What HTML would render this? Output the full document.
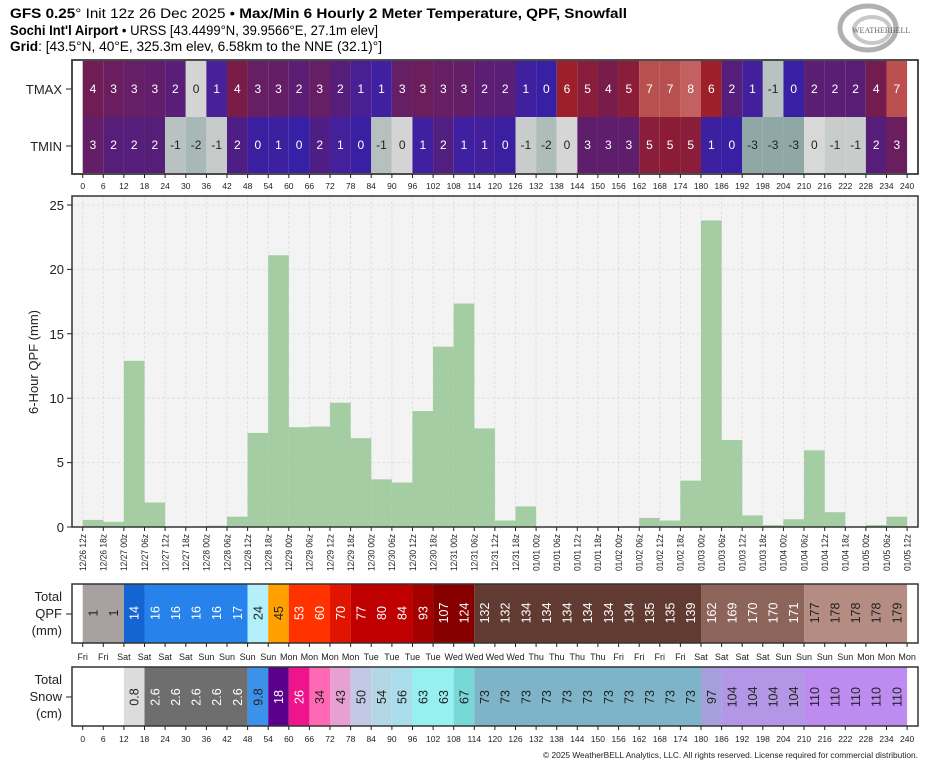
<!DOCTYPE html>
<html><head><meta charset="utf-8"><style>
html,body{margin:0;padding:0;background:#fff;}
svg{display:block;font-family:"Liberation Sans","DejaVu Sans",sans-serif;}
</style></head><body>
<svg width="935" height="768" viewBox="0 0 935 768" xmlns="http://www.w3.org/2000/svg">
<!-- Title -->
<text x="10" y="18" font-size="13.5" textLength="617" lengthAdjust="spacingAndGlyphs"><tspan font-weight="bold">GFS 0.25</tspan>° Init 12z 26 Dec 2025 • <tspan font-weight="bold">Max/Min 6 Hourly 2 Meter Temperature, QPF, Snowfall</tspan></text>
<text x="10" y="35" font-size="13.5" textLength="368" lengthAdjust="spacingAndGlyphs"><tspan font-weight="bold">Sochi Int'l Airport</tspan> • URSS [43.4499°N, 39.9566°E, 27.1m elev]</text>
<text x="10" y="51" font-size="13.5" textLength="372" lengthAdjust="spacingAndGlyphs"><tspan font-weight="bold">Grid</tspan>: [43.5°N, 40°E, 325.3m elev, 6.58km to the NNE (32.1)°]</text>
<!-- logo -->
<g>
<ellipse cx="868" cy="28" rx="28" ry="22" fill="none" stroke="#b0b0b0" stroke-width="5"/>
<ellipse cx="872" cy="30" rx="18" ry="13" fill="none" stroke="#c8c8c8" stroke-width="4"/>
<text x="852" y="33" font-size="8" font-family="Liberation Serif,serif" fill="#666">WEATHERBELL</text>
</g>

<!-- Top temperature panel -->
<rect x="72" y="60" width="846" height="114" fill="#fff" stroke="#333" stroke-width="1.5"/>
<g transform="translate(82.7,61) scale(20.61,1)">
<rect x="0" width="1" height="56" fill="#701d55"/><rect x="1" width="1" height="56" fill="#6a1e60"/><rect x="2" width="1" height="56" fill="#661e66"/><rect x="3" width="1" height="56" fill="#621e6a"/><rect x="4" width="1" height="56" fill="#5a1e78"/><rect x="5" width="1" height="56" fill="#d4d4d4"/><rect x="6" width="1" height="56" fill="#48209a"/><rect x="7" width="1" height="56" fill="#7a1c48"/><rect x="8" width="1" height="56" fill="#661e64"/><rect x="9" width="1" height="56" fill="#641e66"/>
<rect x="10" width="1" height="56" fill="#5c1e74"/><rect x="11" width="1" height="56" fill="#661e64"/><rect x="12" width="1" height="56" fill="#561e7a"/><rect x="13" width="1" height="56" fill="#4a1f94"/><rect x="14" width="1" height="56" fill="#3e20a0"/><rect x="15" width="1" height="56" fill="#661e64"/><rect x="16" width="1" height="56" fill="#6c1e5c"/><rect x="17" width="1" height="56" fill="#661e64"/><rect x="18" width="1" height="56" fill="#641e66"/><rect x="19" width="1" height="56" fill="#5c1e74"/>
<rect x="20" width="1" height="56" fill="#5a1e76"/><rect x="21" width="1" height="56" fill="#40209e"/><rect x="22" width="1" height="56" fill="#3820a4"/><rect x="23" width="1" height="56" fill="#9c1f2a"/><rect x="24" width="1" height="56" fill="#881d3c"/><rect x="25" width="1" height="56" fill="#781c4c"/><rect x="26" width="1" height="56" fill="#8c1d38"/><rect x="27" width="1" height="56" fill="#b85050"/><rect x="28" width="1" height="56" fill="#b85050"/><rect x="29" width="1" height="56" fill="#c46060"/>
<rect x="30" width="1" height="56" fill="#9c1f2a"/><rect x="31" width="1" height="56" fill="#561e7a"/><rect x="32" width="1" height="56" fill="#42209c"/><rect x="33" width="1" height="56" fill="#b8c2c0"/><rect x="34" width="1" height="56" fill="#3820a4"/><rect x="35" width="1" height="56" fill="#5c1e72"/><rect x="36" width="1" height="56" fill="#5a1e74"/><rect x="37" width="1" height="56" fill="#581e76"/><rect x="38" width="1" height="56" fill="#741c50"/><rect x="39" width="1" height="56" fill="#bc5050"/>
</g>
<g transform="translate(82.7,117) scale(20.61,1)">
<rect x="0" width="1" height="56" fill="#641e68"/><rect x="1" width="1" height="56" fill="#561e78"/><rect x="2" width="1" height="56" fill="#541e7a"/><rect x="3" width="1" height="56" fill="#561e78"/><rect x="4" width="1" height="56" fill="#b8c2c0"/><rect x="5" width="1" height="56" fill="#a8b8b6"/><rect x="6" width="1" height="56" fill="#c6cac8"/><rect x="7" width="1" height="56" fill="#4e1e84"/><rect x="8" width="1" height="56" fill="#3a20a0"/><rect x="9" width="1" height="56" fill="#3c20a0"/>
<rect x="10" width="1" height="56" fill="#3520a6"/><rect x="11" width="1" height="56" fill="#4e1e84"/><rect x="12" width="1" height="56" fill="#44209a"/><rect x="13" width="1" height="56" fill="#3820a2"/><rect x="14" width="1" height="56" fill="#b6c0be"/><rect x="15" width="1" height="56" fill="#d4d4d4"/><rect x="16" width="1" height="56" fill="#3e20a0"/><rect x="17" width="1" height="56" fill="#521e80"/><rect x="18" width="1" height="56" fill="#3e20a0"/><rect x="19" width="1" height="56" fill="#42209c"/>
<rect x="20" width="1" height="56" fill="#3a20a0"/><rect x="21" width="1" height="56" fill="#c8cccb"/><rect x="22" width="1" height="56" fill="#aebcba"/><rect x="23" width="1" height="56" fill="#d6d6d6"/><rect x="24" width="1" height="56" fill="#5e1e6c"/><rect x="25" width="1" height="56" fill="#5e1e6c"/><rect x="26" width="1" height="56" fill="#5e1e6c"/><rect x="27" width="1" height="56" fill="#8a1d3a"/><rect x="28" width="1" height="56" fill="#8c1c36"/><rect x="29" width="1" height="56" fill="#8a1d3a"/>
<rect x="30" width="1" height="56" fill="#3c20a0"/><rect x="31" width="1" height="56" fill="#3820a4"/><rect x="32" width="1" height="56" fill="#8fa8a5"/><rect x="33" width="1" height="56" fill="#8fa8a5"/><rect x="34" width="1" height="56" fill="#8fa8a5"/><rect x="35" width="1" height="56" fill="#d8d8d8"/><rect x="36" width="1" height="56" fill="#c8cccb"/><rect x="37" width="1" height="56" fill="#c8cccb"/><rect x="38" width="1" height="56" fill="#561e78"/><rect x="39" width="1" height="56" fill="#6a1e5e"/>
</g>
<g font-size="12" text-anchor="middle" fill="#fff">
<text y="93"><tspan x="93.0">4</tspan><tspan x="113.6">3</tspan><tspan x="134.2">3</tspan><tspan x="154.8">3</tspan><tspan x="175.4">2</tspan><tspan x="196.1" fill="#222">0</tspan><tspan x="216.7">1</tspan><tspan x="237.3">4</tspan><tspan x="257.9">3</tspan><tspan x="278.5">3</tspan><tspan x="299.1">2</tspan><tspan x="319.7">3</tspan><tspan x="340.3">2</tspan><tspan x="360.9">1</tspan><tspan x="381.5">1</tspan><tspan x="402.2">3</tspan><tspan x="422.8">3</tspan><tspan x="443.4">3</tspan><tspan x="464.0">3</tspan><tspan x="484.6">2</tspan><tspan x="505.2">2</tspan><tspan x="525.8">1</tspan><tspan x="546.4">0</tspan><tspan x="567.0">6</tspan><tspan x="587.6">5</tspan><tspan x="608.3">4</tspan><tspan x="628.9">5</tspan><tspan x="649.5">7</tspan><tspan x="670.1">7</tspan><tspan x="690.7">8</tspan><tspan x="711.3">6</tspan><tspan x="731.9">2</tspan><tspan x="752.5">1</tspan><tspan x="773.1" fill="#222">-1</tspan><tspan x="793.7">0</tspan><tspan x="814.4">2</tspan><tspan x="835.0">2</tspan><tspan x="855.6">2</tspan><tspan x="876.2">4</tspan><tspan x="896.8">7</tspan></text>
<text y="149"><tspan x="93.0">3</tspan><tspan x="113.6">2</tspan><tspan x="134.2">2</tspan><tspan x="154.8">2</tspan><tspan x="175.4" fill="#222">-1</tspan><tspan x="196.1" fill="#222">-2</tspan><tspan x="216.7" fill="#222">-1</tspan><tspan x="237.3">2</tspan><tspan x="257.9">0</tspan><tspan x="278.5">1</tspan><tspan x="299.1">0</tspan><tspan x="319.7">2</tspan><tspan x="340.3">1</tspan><tspan x="360.9">0</tspan><tspan x="381.5" fill="#222">-1</tspan><tspan x="402.2" fill="#222">0</tspan><tspan x="422.8">1</tspan><tspan x="443.4">2</tspan><tspan x="464.0">1</tspan><tspan x="484.6">1</tspan><tspan x="505.2">0</tspan><tspan x="525.8" fill="#222">-1</tspan><tspan x="546.4" fill="#222">-2</tspan><tspan x="567.0" fill="#222">0</tspan><tspan x="587.6">3</tspan><tspan x="608.3">3</tspan><tspan x="628.9">3</tspan><tspan x="649.5">5</tspan><tspan x="670.1">5</tspan><tspan x="690.7">5</tspan><tspan x="711.3">1</tspan><tspan x="731.9">0</tspan><tspan x="752.5" fill="#222">-3</tspan><tspan x="773.1" fill="#222">-3</tspan><tspan x="793.7" fill="#222">-3</tspan><tspan x="814.4" fill="#222">0</tspan><tspan x="835.0" fill="#222">-1</tspan><tspan x="855.6" fill="#222">-1</tspan><tspan x="876.2">2</tspan><tspan x="896.8">3</tspan></text>
</g>
<g font-size="13" text-anchor="end" fill="#222">
<text x="62" y="94">TMAX</text><text x="62" y="151">TMIN</text>
</g>
<path d="M66 89H72M66 146H72" stroke="#222"/>
<rect x="72" y="60" width="846" height="114" fill="none" stroke="#333" stroke-width="1.5"/>

<!-- tick marks (reused) -->
<defs>
<path id="ticks" d="M82.7 0v4M103.3 0v4M123.9 0v4M144.5 0v4M165.1 0v4M185.8 0v4M206.4 0v4M227.0 0v4M247.6 0v4M268.2 0v4M288.8 0v4M309.4 0v4M330.0 0v4M350.6 0v4M371.2 0v4M391.9 0v4M412.5 0v4M433.1 0v4M453.7 0v4M474.3 0v4M494.9 0v4M515.5 0v4M536.1 0v4M556.7 0v4M577.3 0v4M597.9 0v4M618.6 0v4M639.2 0v4M659.8 0v4M680.4 0v4M701.0 0v4M721.6 0v4M742.2 0v4M762.8 0v4M783.4 0v4M804.0 0v4M824.7 0v4M845.3 0v4M865.9 0v4M886.5 0v4M907.1 0v4" stroke="#222" stroke-width="1"/>
<g id="hours" font-size="8.5" text-anchor="middle" fill="#222"><text><tspan x="82.7">0</tspan><tspan x="103.3">6</tspan><tspan x="123.9">12</tspan><tspan x="144.5">18</tspan><tspan x="165.1">24</tspan><tspan x="185.8">30</tspan><tspan x="206.4">36</tspan><tspan x="227.0">42</tspan><tspan x="247.6">48</tspan><tspan x="268.2">54</tspan><tspan x="288.8">60</tspan><tspan x="309.4">66</tspan><tspan x="330.0">72</tspan><tspan x="350.6">78</tspan><tspan x="371.2">84</tspan><tspan x="391.9">90</tspan><tspan x="412.5">96</tspan><tspan x="433.1">102</tspan><tspan x="453.7">108</tspan><tspan x="474.3">114</tspan><tspan x="494.9">120</tspan><tspan x="515.5">126</tspan><tspan x="536.1">132</tspan><tspan x="556.7">138</tspan><tspan x="577.3">144</tspan><tspan x="597.9">150</tspan><tspan x="618.6">156</tspan><tspan x="639.2">162</tspan><tspan x="659.8">168</tspan><tspan x="680.4">174</tspan><tspan x="701.0">180</tspan><tspan x="721.6">186</tspan><tspan x="742.2">192</tspan><tspan x="762.8">198</tspan><tspan x="783.4">204</tspan><tspan x="804.0">210</tspan><tspan x="824.7">216</tspan><tspan x="845.3">222</tspan><tspan x="865.9">228</tspan><tspan x="886.5">234</tspan><tspan x="907.1">240</tspan></text></g>
</defs>
<use href="#ticks" y="174"/>
<use href="#hours" y="189"/>

<!-- Main QPF chart -->
<rect x="72" y="196" width="846" height="331" fill="#f3f3f3"/>
<g stroke="#dcdcdc" stroke-dasharray="3,2" stroke-width="0.8">
<path d="M72 462.6H918M72 398.2H918M72 333.8H918M72 269.4H918M72 205H918"/>
<path d="M82.7 196V527M103.3 196V527M123.9 196V527M144.5 196V527M165.1 196V527M185.8 196V527M206.4 196V527M227.0 196V527M247.6 196V527M268.2 196V527M288.8 196V527M309.4 196V527M330.0 196V527M350.6 196V527M371.2 196V527M391.9 196V527M412.5 196V527M433.1 196V527M453.7 196V527M474.3 196V527M494.9 196V527M515.5 196V527M536.1 196V527M556.7 196V527M577.3 196V527M597.9 196V527M618.6 196V527M639.2 196V527M659.8 196V527M680.4 196V527M701.0 196V527M721.6 196V527M742.2 196V527M762.8 196V527M783.4 196V527M804.0 196V527M824.7 196V527M845.3 196V527M865.9 196V527M886.5 196V527M907.1 196V527"/>
</g>
<g transform="translate(82.7,527) scale(20.61,-12.88)" fill="#9fca9e" fill-opacity="0.95">
<rect x="0" width="1" height="0.55"/><rect x="1" width="1" height="0.4"/><rect x="2" width="1" height="12.9"/><rect x="3" width="1" height="1.9"/><rect x="6" width="1" height="0.1"/><rect x="7" width="1" height="0.8"/><rect x="8" width="1" height="7.3"/><rect x="9" width="1" height="21.1"/><rect x="10" width="1" height="7.75"/><rect x="11" width="1" height="7.8"/><rect x="12" width="1" height="9.65"/><rect x="13" width="1" height="6.9"/><rect x="14" width="1" height="3.7"/><rect x="15" width="1" height="3.45"/><rect x="16" width="1" height="9.0"/><rect x="17" width="1" height="14.0"/><rect x="18" width="1" height="17.35"/><rect x="19" width="1" height="7.65"/><rect x="20" width="1" height="0.5"/><rect x="21" width="1" height="1.6"/><rect x="27" width="1" height="0.7"/><rect x="28" width="1" height="0.5"/><rect x="29" width="1" height="3.6"/><rect x="30" width="1" height="23.8"/><rect x="31" width="1" height="6.75"/><rect x="32" width="1" height="0.9"/><rect x="33" width="1" height="0.15"/><rect x="34" width="1" height="0.6"/><rect x="35" width="1" height="5.95"/><rect x="36" width="1" height="1.15"/><rect x="38" width="1" height="0.15"/><rect x="39" width="1" height="0.8"/>
</g>
<rect x="72" y="196" width="846" height="331" fill="none" stroke="#333" stroke-width="1.5"/>
<g font-size="13" text-anchor="end" fill="#222">
<text x="64" y="532">0</text><text x="64" y="467">5</text><text x="64" y="403">10</text><text x="64" y="339">15</text><text x="64" y="274">20</text><text x="64" y="210">25</text>
</g>
<path d="M67 527H72M67 462.6H72M67 398.2H72M67 333.8H72M67 269.4H72M67 205H72" stroke="#222"/>
<text transform="translate(38,362) rotate(-90)" font-size="13" text-anchor="middle" fill="#222">6-Hour QPF (mm)</text>
<use href="#ticks" y="527"/>
<g font-size="9" text-anchor="end" fill="#222">
<text transform="translate(86,534) rotate(-90)" textLength="37" lengthAdjust="spacingAndGlyphs">12/26 12z</text>
<text transform="translate(106.6,534) rotate(-90)" textLength="37" lengthAdjust="spacingAndGlyphs">12/26 18z</text>
<text transform="translate(127.2,534) rotate(-90)" textLength="37" lengthAdjust="spacingAndGlyphs">12/27 00z</text>
<text transform="translate(147.8,534) rotate(-90)" textLength="37" lengthAdjust="spacingAndGlyphs">12/27 06z</text>
<text transform="translate(168.4,534) rotate(-90)" textLength="37" lengthAdjust="spacingAndGlyphs">12/27 12z</text>
<text transform="translate(189.1,534) rotate(-90)" textLength="37" lengthAdjust="spacingAndGlyphs">12/27 18z</text>
<text transform="translate(209.7,534) rotate(-90)" textLength="37" lengthAdjust="spacingAndGlyphs">12/28 00z</text>
<text transform="translate(230.3,534) rotate(-90)" textLength="37" lengthAdjust="spacingAndGlyphs">12/28 06z</text>
<text transform="translate(250.9,534) rotate(-90)" textLength="37" lengthAdjust="spacingAndGlyphs">12/28 12z</text>
<text transform="translate(271.5,534) rotate(-90)" textLength="37" lengthAdjust="spacingAndGlyphs">12/28 18z</text>
<text transform="translate(292.1,534) rotate(-90)" textLength="37" lengthAdjust="spacingAndGlyphs">12/29 00z</text>
<text transform="translate(312.7,534) rotate(-90)" textLength="37" lengthAdjust="spacingAndGlyphs">12/29 06z</text>
<text transform="translate(333.3,534) rotate(-90)" textLength="37" lengthAdjust="spacingAndGlyphs">12/29 12z</text>
<text transform="translate(353.9,534) rotate(-90)" textLength="37" lengthAdjust="spacingAndGlyphs">12/29 18z</text>
<text transform="translate(374.5,534) rotate(-90)" textLength="37" lengthAdjust="spacingAndGlyphs">12/30 00z</text>
<text transform="translate(395.2,534) rotate(-90)" textLength="37" lengthAdjust="spacingAndGlyphs">12/30 06z</text>
<text transform="translate(415.8,534) rotate(-90)" textLength="37" lengthAdjust="spacingAndGlyphs">12/30 12z</text>
<text transform="translate(436.4,534) rotate(-90)" textLength="37" lengthAdjust="spacingAndGlyphs">12/30 18z</text>
<text transform="translate(457.0,534) rotate(-90)" textLength="37" lengthAdjust="spacingAndGlyphs">12/31 00z</text>
<text transform="translate(477.6,534) rotate(-90)" textLength="37" lengthAdjust="spacingAndGlyphs">12/31 06z</text>
<text transform="translate(498.2,534) rotate(-90)" textLength="37" lengthAdjust="spacingAndGlyphs">12/31 12z</text>
<text transform="translate(518.8,534) rotate(-90)" textLength="37" lengthAdjust="spacingAndGlyphs">12/31 18z</text>
<text transform="translate(539.4,534) rotate(-90)" textLength="37" lengthAdjust="spacingAndGlyphs">01/01 00z</text>
<text transform="translate(560.0,534) rotate(-90)" textLength="37" lengthAdjust="spacingAndGlyphs">01/01 06z</text>
<text transform="translate(580.6,534) rotate(-90)" textLength="37" lengthAdjust="spacingAndGlyphs">01/01 12z</text>
<text transform="translate(601.2,534) rotate(-90)" textLength="37" lengthAdjust="spacingAndGlyphs">01/01 18z</text>
<text transform="translate(621.9,534) rotate(-90)" textLength="37" lengthAdjust="spacingAndGlyphs">01/02 00z</text>
<text transform="translate(642.5,534) rotate(-90)" textLength="37" lengthAdjust="spacingAndGlyphs">01/02 06z</text>
<text transform="translate(663.1,534) rotate(-90)" textLength="37" lengthAdjust="spacingAndGlyphs">01/02 12z</text>
<text transform="translate(683.7,534) rotate(-90)" textLength="37" lengthAdjust="spacingAndGlyphs">01/02 18z</text>
<text transform="translate(704.3,534) rotate(-90)" textLength="37" lengthAdjust="spacingAndGlyphs">01/03 00z</text>
<text transform="translate(724.9,534) rotate(-90)" textLength="37" lengthAdjust="spacingAndGlyphs">01/03 06z</text>
<text transform="translate(745.5,534) rotate(-90)" textLength="37" lengthAdjust="spacingAndGlyphs">01/03 12z</text>
<text transform="translate(766.1,534) rotate(-90)" textLength="37" lengthAdjust="spacingAndGlyphs">01/03 18z</text>
<text transform="translate(786.7,534) rotate(-90)" textLength="37" lengthAdjust="spacingAndGlyphs">01/04 00z</text>
<text transform="translate(807.3,534) rotate(-90)" textLength="37" lengthAdjust="spacingAndGlyphs">01/04 06z</text>
<text transform="translate(828.0,534) rotate(-90)" textLength="37" lengthAdjust="spacingAndGlyphs">01/04 12z</text>
<text transform="translate(848.6,534) rotate(-90)" textLength="37" lengthAdjust="spacingAndGlyphs">01/04 18z</text>
<text transform="translate(869.2,534) rotate(-90)" textLength="37" lengthAdjust="spacingAndGlyphs">01/05 00z</text>
<text transform="translate(889.8,534) rotate(-90)" textLength="37" lengthAdjust="spacingAndGlyphs">01/05 06z</text>
<text transform="translate(910.4,534) rotate(-90)" textLength="37" lengthAdjust="spacingAndGlyphs">01/05 12z</text>
</g>

<!-- Total QPF panel -->
<rect x="72" y="584" width="846" height="59" fill="#fff"/>
<g transform="translate(82.7,584) scale(20.61,1)">
<rect x="0" width="2" height="59" fill="#a9a1a1"/><rect x="2" width="1" height="59" fill="#1464d2"/><rect x="3" width="5" height="59" fill="#2882eb"/><rect x="8" width="1" height="59" fill="#b4f0fa"/><rect x="9" width="1" height="59" fill="#ffa000"/><rect x="10" width="2" height="59" fill="#ff3200"/><rect x="12" width="1" height="59" fill="#e11400"/><rect x="13" width="3" height="59" fill="#c00000"/><rect x="16" width="1" height="59" fill="#a50000"/><rect x="17" width="2" height="59" fill="#870000"/><rect x="19" width="11" height="59" fill="#613a32"/><rect x="30" width="5" height="59" fill="#8c6459"/><rect x="35" width="5" height="59" fill="#b48c82"/>
</g>
<g font-size="12.5" text-anchor="middle" fill="#fff">
<text transform="translate(93.0,613) rotate(-90)" dy="4.5" fill="#222">1</text>
<text transform="translate(113.6,613) rotate(-90)" dy="4.5" fill="#222">1</text>
<text transform="translate(134.2,613) rotate(-90)" dy="4.5">14</text>
<text transform="translate(154.8,613) rotate(-90)" dy="4.5">16</text>
<text transform="translate(175.4,613) rotate(-90)" dy="4.5">16</text>
<text transform="translate(196.1,613) rotate(-90)" dy="4.5">16</text>
<text transform="translate(216.7,613) rotate(-90)" dy="4.5">16</text>
<text transform="translate(237.3,613) rotate(-90)" dy="4.5">17</text>
<text transform="translate(257.9,613) rotate(-90)" dy="4.5" fill="#222">24</text>
<text transform="translate(278.5,613) rotate(-90)" dy="4.5" fill="#222">45</text>
<text transform="translate(299.1,613) rotate(-90)" dy="4.5">53</text>
<text transform="translate(319.7,613) rotate(-90)" dy="4.5">60</text>
<text transform="translate(340.3,613) rotate(-90)" dy="4.5">70</text>
<text transform="translate(360.9,613) rotate(-90)" dy="4.5">77</text>
<text transform="translate(381.5,613) rotate(-90)" dy="4.5">80</text>
<text transform="translate(402.2,613) rotate(-90)" dy="4.5">84</text>
<text transform="translate(422.8,613) rotate(-90)" dy="4.5">93</text>
<text transform="translate(443.4,613) rotate(-90)" dy="4.5">107</text>
<text transform="translate(464.0,613) rotate(-90)" dy="4.5">124</text>
<text transform="translate(484.6,613) rotate(-90)" dy="4.5">132</text>
<text transform="translate(505.2,613) rotate(-90)" dy="4.5">132</text>
<text transform="translate(525.8,613) rotate(-90)" dy="4.5">134</text>
<text transform="translate(546.4,613) rotate(-90)" dy="4.5">134</text>
<text transform="translate(567.0,613) rotate(-90)" dy="4.5">134</text>
<text transform="translate(587.6,613) rotate(-90)" dy="4.5">134</text>
<text transform="translate(608.3,613) rotate(-90)" dy="4.5">134</text>
<text transform="translate(628.9,613) rotate(-90)" dy="4.5">134</text>
<text transform="translate(649.5,613) rotate(-90)" dy="4.5">135</text>
<text transform="translate(670.1,613) rotate(-90)" dy="4.5">135</text>
<text transform="translate(690.7,613) rotate(-90)" dy="4.5">139</text>
<text transform="translate(711.3,613) rotate(-90)" dy="4.5">162</text>
<text transform="translate(731.9,613) rotate(-90)" dy="4.5">169</text>
<text transform="translate(752.5,613) rotate(-90)" dy="4.5">170</text>
<text transform="translate(773.1,613) rotate(-90)" dy="4.5">170</text>
<text transform="translate(793.7,613) rotate(-90)" dy="4.5">171</text>
<text transform="translate(814.4,613) rotate(-90)" dy="4.5" fill="#222">177</text>
<text transform="translate(835.0,613) rotate(-90)" dy="4.5" fill="#222">178</text>
<text transform="translate(855.6,613) rotate(-90)" dy="4.5" fill="#222">178</text>
<text transform="translate(876.2,613) rotate(-90)" dy="4.5" fill="#222">178</text>
<text transform="translate(896.8,613) rotate(-90)" dy="4.5" fill="#222">179</text>
</g>
<rect x="72" y="584" width="846" height="59" fill="none" stroke="#333" stroke-width="1.5"/>
<g font-size="13" text-anchor="end" fill="#222">
<text x="62" y="601">Total</text><text x="62" y="618">QPF</text><text x="62" y="635">(mm)</text>
</g>
<path d="M66 614H72" stroke="#222"/>
<use href="#ticks" y="643"/>
<g font-size="9" text-anchor="middle" fill="#222"><text y="660"><tspan x="82.7">Fri</tspan><tspan x="103.3">Fri</tspan><tspan x="123.9">Sat</tspan><tspan x="144.5">Sat</tspan><tspan x="165.1">Sat</tspan><tspan x="185.8">Sat</tspan><tspan x="206.4">Sun</tspan><tspan x="227.0">Sun</tspan><tspan x="247.6">Sun</tspan><tspan x="268.2">Sun</tspan><tspan x="288.8">Mon</tspan><tspan x="309.4">Mon</tspan><tspan x="330.0">Mon</tspan><tspan x="350.6">Mon</tspan><tspan x="371.2">Tue</tspan><tspan x="391.9">Tue</tspan><tspan x="412.5">Tue</tspan><tspan x="433.1">Tue</tspan><tspan x="453.7">Wed</tspan><tspan x="474.3">Wed</tspan><tspan x="494.9">Wed</tspan><tspan x="515.5">Wed</tspan><tspan x="536.1">Thu</tspan><tspan x="556.7">Thu</tspan><tspan x="577.3">Thu</tspan><tspan x="597.9">Thu</tspan><tspan x="618.6">Fri</tspan><tspan x="639.2">Fri</tspan><tspan x="659.8">Fri</tspan><tspan x="680.4">Fri</tspan><tspan x="701.0">Sat</tspan><tspan x="721.6">Sat</tspan><tspan x="742.2">Sat</tspan><tspan x="762.8">Sat</tspan><tspan x="783.4">Sun</tspan><tspan x="804.0">Sun</tspan><tspan x="824.7">Sun</tspan><tspan x="845.3">Sun</tspan><tspan x="865.9">Mon</tspan><tspan x="886.5">Mon</tspan><tspan x="907.1">Mon</tspan></text></g>

<!-- Total Snow panel -->
<rect x="72" y="667" width="846" height="59" fill="#fff"/>
<g transform="translate(82.7,667) scale(20.61,1)">
<rect x="2" width="1" height="59" fill="#dcdcdc"/><rect x="3" width="5" height="59" fill="#6e6e6e"/><rect x="8" width="1" height="59" fill="#3c91eb"/><rect x="9" width="1" height="59" fill="#5a008c"/><rect x="10" width="1" height="59" fill="#f0148c"/><rect x="11" width="1" height="59" fill="#ff69b4"/><rect x="12" width="1" height="59" fill="#e6a0d2"/><rect x="13" width="1" height="59" fill="#c3c8e6"/><rect x="14" width="1" height="59" fill="#b4d7e6"/><rect x="15" width="1" height="59" fill="#aadceb"/><rect x="16" width="2" height="59" fill="#96f0f0"/><rect x="18" width="1" height="59" fill="#78d7d7"/><rect x="19" width="11" height="59" fill="#7db4c8"/><rect x="30" width="1" height="59" fill="#a5a0dc"/><rect x="31" width="4" height="59" fill="#b496e6"/><rect x="35" width="5" height="59" fill="#be8cf0"/>
</g>
<g font-size="12.5" text-anchor="middle" fill="#222">
<text transform="translate(134.2,697) rotate(-90)" dy="4.5">0.8</text>
<text transform="translate(154.8,697) rotate(-90)" dy="4.5" fill="#fff">2.6</text>
<text transform="translate(175.4,697) rotate(-90)" dy="4.5" fill="#fff">2.6</text>
<text transform="translate(196.1,697) rotate(-90)" dy="4.5" fill="#fff">2.6</text>
<text transform="translate(216.7,697) rotate(-90)" dy="4.5" fill="#fff">2.6</text>
<text transform="translate(237.3,697) rotate(-90)" dy="4.5" fill="#fff">2.6</text>
<text transform="translate(257.9,697) rotate(-90)" dy="4.5">9.8</text>
<text transform="translate(278.5,697) rotate(-90)" dy="4.5" fill="#fff">18</text>
<text transform="translate(299.1,697) rotate(-90)" dy="4.5" fill="#fff">26</text>
<text transform="translate(319.7,697) rotate(-90)" dy="4.5">34</text>
<text transform="translate(340.3,697) rotate(-90)" dy="4.5">43</text>
<text transform="translate(360.9,697) rotate(-90)" dy="4.5">50</text>
<text transform="translate(381.5,697) rotate(-90)" dy="4.5">54</text>
<text transform="translate(402.2,697) rotate(-90)" dy="4.5">56</text>
<text transform="translate(422.8,697) rotate(-90)" dy="4.5">63</text>
<text transform="translate(443.4,697) rotate(-90)" dy="4.5">63</text>
<text transform="translate(464.0,697) rotate(-90)" dy="4.5">67</text>
<text transform="translate(484.6,697) rotate(-90)" dy="4.5">73</text>
<text transform="translate(505.2,697) rotate(-90)" dy="4.5">73</text>
<text transform="translate(525.8,697) rotate(-90)" dy="4.5">73</text>
<text transform="translate(546.4,697) rotate(-90)" dy="4.5">73</text>
<text transform="translate(567.0,697) rotate(-90)" dy="4.5">73</text>
<text transform="translate(587.6,697) rotate(-90)" dy="4.5">73</text>
<text transform="translate(608.3,697) rotate(-90)" dy="4.5">73</text>
<text transform="translate(628.9,697) rotate(-90)" dy="4.5">73</text>
<text transform="translate(649.5,697) rotate(-90)" dy="4.5">73</text>
<text transform="translate(670.1,697) rotate(-90)" dy="4.5">73</text>
<text transform="translate(690.7,697) rotate(-90)" dy="4.5">73</text>
<text transform="translate(711.3,697) rotate(-90)" dy="4.5">97</text>
<text transform="translate(731.9,697) rotate(-90)" dy="4.5">104</text>
<text transform="translate(752.5,697) rotate(-90)" dy="4.5">104</text>
<text transform="translate(773.1,697) rotate(-90)" dy="4.5">104</text>
<text transform="translate(793.7,697) rotate(-90)" dy="4.5">104</text>
<text transform="translate(814.4,697) rotate(-90)" dy="4.5">110</text>
<text transform="translate(835.0,697) rotate(-90)" dy="4.5">110</text>
<text transform="translate(855.6,697) rotate(-90)" dy="4.5">110</text>
<text transform="translate(876.2,697) rotate(-90)" dy="4.5">110</text>
<text transform="translate(896.8,697) rotate(-90)" dy="4.5">110</text>
</g>
<rect x="72" y="667" width="846" height="59" fill="none" stroke="#333" stroke-width="1.5"/>
<g font-size="13" text-anchor="end" fill="#222">
<text x="62" y="684">Total</text><text x="62" y="701">Snow</text><text x="62" y="718">(cm)</text>
</g>
<path d="M66 697H72" stroke="#222"/>
<use href="#ticks" y="726"/>
<use href="#hours" y="742"/>
<text x="918" y="758" font-size="8.5" text-anchor="end" fill="#222" textLength="375" lengthAdjust="spacingAndGlyphs">© 2025 WeatherBELL Analytics, LLC. All rights reserved. License required for commercial distribution.</text>
</svg>
</body></html>
